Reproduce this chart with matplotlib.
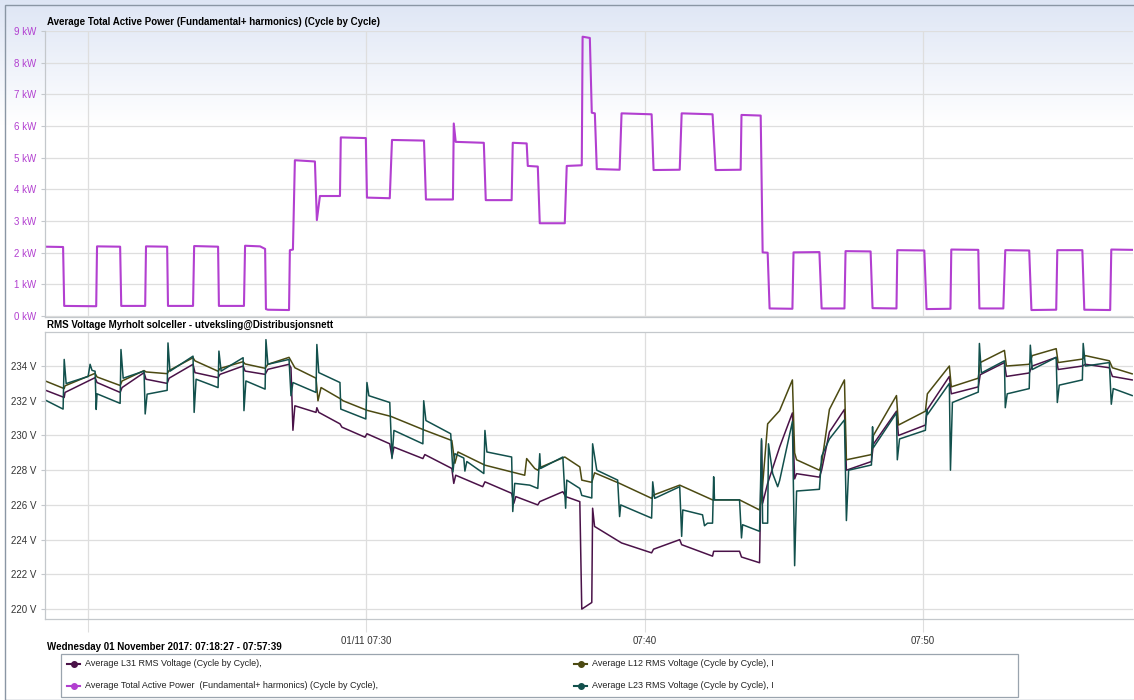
import numpy as np
import matplotlib.pyplot as plt
from matplotlib.patches import Rectangle
from matplotlib.lines import Line2D

# time is in minutes after 07:00 on 01/11/2017
power_t = [18.46, 19.10, 19.14, 20.29, 20.32, 21.15, 21.19, 22.05, 22.08, 22.84,
           22.87, 23.77, 23.81, 24.67, 24.70, 25.60, 25.64, 26.18, 26.36, 26.39,
           26.46, 27.22, 27.25, 27.36, 27.43, 28.15, 28.22, 28.33, 29.05, 29.08,
           29.98, 30.02, 30.84, 30.92, 32.07, 32.14, 33.11, 33.14, 33.21, 34.22,
           34.29, 35.22, 35.26, 35.76, 35.80, 36.16, 36.23, 37.13, 37.20, 37.74,
           37.77, 38.03, 38.10, 38.21, 38.28, 39.10, 39.17, 40.25, 40.32, 41.26,
           41.33, 42.44, 42.55, 43.45, 43.48, 44.17, 44.24, 44.42, 44.49, 45.31,
           45.35, 46.28, 46.36, 47.18, 47.22, 48.12, 48.19, 49.05, 49.08, 50.05,
           50.13, 50.99, 51.02, 51.99, 52.03, 52.89, 52.96, 53.82, 53.90, 54.79,
           54.83, 55.73, 55.80, 56.73, 56.77, 57.52]
power_kw = [2.19, 2.18, 0.32, 0.31, 2.20, 2.19, 0.32, 0.32, 2.20, 2.19,
            0.32, 0.32, 2.21, 2.19, 0.32, 0.32, 2.22, 2.20, 2.12, 0.22,
            0.20, 0.19, 2.08, 2.10, 4.92, 4.88, 3.03, 3.79, 3.79, 5.64,
            5.62, 3.74, 3.72, 5.56, 5.54, 3.68, 3.68, 6.08, 5.50, 5.47,
            3.66, 3.66, 5.47, 5.45, 4.74, 4.72, 2.93, 2.93, 4.74, 4.76,
            8.82, 8.78, 6.42, 6.40, 4.64, 4.62, 6.40, 6.37, 4.61, 4.62,
            6.40, 6.37, 4.61, 4.62, 6.35, 6.33, 2.01, 2.00, 0.24, 0.23,
            2.01, 2.02, 0.24, 0.24, 2.05, 2.04, 0.25, 0.24, 2.08, 2.07,
            0.22, 0.23, 2.10, 2.09, 0.24, 0.24, 2.08, 2.07, 0.19, 0.20,
            2.08, 2.08, 0.20, 0.19, 2.10, 2.09]

l12_t = [18.46, 19.14, 19.17, 20.25, 20.32, 21.15, 21.22, 22.01, 22.08, 22.84,
         22.91, 23.77, 23.84, 24.67, 24.74, 25.57, 25.64, 26.36, 26.46, 27.22,
         27.43, 28.19, 28.26, 28.37, 29.08, 29.16, 30.02, 30.88, 32.10, 33.07,
         33.18, 33.29, 34.26, 35.69, 35.76, 36.05, 36.16, 36.23, 37.13, 37.67,
         37.74, 38.10, 38.20, 39.10, 40.25, 40.32, 41.26, 42.44, 43.41, 44.13,
         44.20, 44.42, 44.85, 45.31, 45.39, 45.46, 46.28, 46.36, 46.64, 47.18,
         47.25, 48.15, 48.22, 49.05, 49.12, 50.09, 50.16, 50.95, 51.02, 51.99,
         52.06, 52.93, 53.00, 53.82, 53.93, 54.79, 54.86, 55.73, 55.84, 56.70,
         56.81, 57.52]
l12_v = [233.14, 232.70, 232.86, 233.58, 233.37, 232.88, 233.14, 233.74, 233.66, 233.56,
         233.74, 234.48, 234.30, 233.70, 233.86, 234.25, 234.12, 233.87, 234.10, 234.50,
         233.90, 233.30, 232.00, 232.76, 232.10, 232.00, 231.45, 231.10, 230.30, 229.71,
         228.40, 229.05, 228.29, 227.71, 228.67, 228.10, 228.00, 228.15, 228.76, 228.19,
         227.43, 227.30, 227.85, 227.24, 226.38, 226.57, 227.14, 226.29, 226.29, 225.71,
         226.38, 230.67, 231.43, 233.20, 229.00, 228.60, 228.00, 228.40, 231.50, 233.20,
         228.60, 228.90, 230.00, 232.30, 230.60, 231.40, 232.40, 234.00, 232.80, 233.30,
         234.20, 234.90, 234.00, 234.10, 234.60, 235.00, 234.20, 234.40, 234.60, 234.30,
         233.90, 233.55]

l31_t = [18.46, 19.14, 19.17, 20.25, 20.32, 21.15, 21.22, 22.01, 22.08, 22.84,
         22.91, 23.77, 23.84, 24.67, 24.74, 25.57, 25.64, 26.36, 26.46, 27.22,
         27.29, 27.36, 27.43, 28.19, 28.22, 28.29, 29.05, 29.12, 29.95, 30.02,
         30.84, 30.92, 30.99, 32.03, 32.10, 33.07, 33.14, 33.21, 34.18, 34.26,
         35.22, 35.30, 35.37, 36.16, 36.23, 37.06, 37.16, 37.67, 37.74, 38.10,
         38.13, 38.20, 39.17, 40.25, 40.32, 41.26, 41.33, 42.44, 42.48, 43.41,
         43.48, 44.13, 44.20, 44.24, 44.42, 44.85, 45.31, 45.39, 45.46, 46.28,
         46.36, 46.64, 47.18, 47.25, 48.15, 48.22, 49.05, 49.12, 50.09, 50.16,
         50.95, 51.02, 51.99, 52.06, 52.93, 53.00, 53.82, 53.93, 54.79, 54.86,
         55.73, 55.84, 56.70, 56.81, 57.52]
l31_v = [232.61, 232.19, 232.48, 233.33, 233.05, 232.48, 232.76, 233.62, 233.24, 233.00,
         233.30, 234.10, 233.62, 233.33, 233.52, 234.00, 233.71, 233.52, 233.81, 234.10,
         233.90, 230.30, 231.71, 231.33, 231.60, 231.33, 230.67, 230.48, 229.90, 230.10,
         229.52, 228.76, 229.33, 228.67, 228.90, 228.10, 227.24, 227.71, 227.05, 227.33,
         226.67, 226.10, 226.48, 226.00, 226.19, 226.76, 226.48, 226.19, 220.00, 220.38,
         225.81, 224.76, 223.81, 223.24, 223.45, 224.00, 223.71, 223.05, 223.33, 223.33,
         223.00, 222.67, 229.71, 226.10, 227.24, 229.33, 231.30, 227.50, 227.80, 227.60,
         228.00, 230.20, 231.50, 228.00, 228.50, 229.50, 231.40, 230.00, 230.60, 231.50,
         233.40, 232.40, 232.80, 233.50, 234.20, 233.40, 233.60, 234.00, 234.50, 233.80,
         234.00, 234.10, 233.90, 233.40, 233.20]

l23_t = [18.46, 19.10, 19.14, 19.21, 20.00, 20.07, 20.14, 20.25, 20.29, 20.32,
         21.15, 21.18, 21.26, 22.01, 22.05, 22.12, 22.84, 22.87, 22.94, 23.77,
         23.81, 23.88, 24.67, 24.70, 24.78, 25.57, 25.60, 25.67, 26.36, 26.39,
         26.46, 27.22, 27.29, 27.36, 28.19, 28.22, 28.29, 29.05, 29.08, 29.98,
         30.02, 30.09, 30.84, 30.92, 30.99, 32.03, 32.06, 32.14, 33.03, 33.11,
         33.18, 33.50, 33.54, 33.61, 34.22, 34.26, 34.33, 35.22, 35.26, 35.33,
         35.87, 36.16, 36.23, 36.26, 37.06, 37.16, 37.20, 37.67, 37.74, 38.10,
         38.13, 38.28, 39.03, 39.10, 39.14, 40.25, 40.29, 40.36, 41.26, 41.33,
         41.37, 42.08, 42.15, 42.26, 42.44, 42.48, 42.51, 43.41, 43.48, 43.52,
         44.13, 44.20, 44.24, 44.42, 44.45, 44.60, 44.78, 44.85, 45.31, 45.39,
         45.46, 46.28, 46.36, 46.64, 47.18, 47.25, 47.33, 48.15, 48.19, 48.22,
         49.05, 49.08, 49.16, 50.09, 50.13, 50.16, 50.95, 50.99, 51.06, 51.99,
         52.03, 52.10, 52.93, 52.96, 53.03, 53.82, 53.86, 53.93, 54.79, 54.83,
         54.90, 55.73, 55.76, 55.84, 56.70, 56.77, 56.84, 57.52]
l23_v = [232.04, 231.52, 234.38, 232.99, 233.40, 234.10, 233.75, 233.70, 231.50, 232.40,
         231.85, 234.95, 233.30, 233.71, 231.24, 232.38, 232.60, 235.33, 233.70, 234.57,
         231.33, 233.24, 232.76, 234.86, 233.71, 234.48, 231.43, 233.14, 232.67, 235.52,
         234.10, 234.38, 232.29, 233.05, 232.48, 235.24, 233.62, 233.05, 231.52, 230.95,
         233.05, 232.29, 231.90, 228.67, 230.29, 229.52, 232.00, 230.86, 230.10, 227.90,
         228.95, 228.70, 227.95, 228.50, 227.81, 230.29, 229.05, 228.76, 225.62, 227.24,
         227.14, 226.95, 228.95, 228.10, 228.76, 225.81, 227.43, 226.95, 226.55, 226.40,
         229.52, 228.00, 227.43, 225.33, 226.00, 225.24, 227.33, 226.38, 227.05, 224.19,
         225.71, 225.43, 224.80, 224.95, 224.95, 227.62, 226.29, 226.29, 224.10, 224.86,
         224.48, 229.81, 224.95, 224.95, 229.52, 227.81, 227.05, 227.40, 230.80, 222.50,
         226.80, 226.90, 228.80, 229.80, 230.90, 225.10, 228.00, 228.30, 230.50, 229.30,
         231.30, 228.60, 229.80, 230.30, 231.50, 231.20, 233.00, 228.00, 231.90, 232.50,
         235.30, 233.60, 234.30, 231.60, 232.40, 232.70, 235.20, 233.80, 234.50, 231.90,
         232.90, 233.20, 235.30, 234.00, 234.20, 231.80, 232.70, 232.30]

x_ticks = [20, 30, 40, 50]
x_labels = ['', '01/11 07:30', '07:40', '07:50']
kw_ticks = list(range(0, 10))
v_ticks = list(range(220, 236, 2))

c_power = '#b23fd0'
c_l31 = '#4a1248'
c_l12 = '#4c4a12'
c_l23 = '#12504c'
grid_c = '#dedede'
spine_c = '#c4c8cc'

W, H = 1134, 700
fig = plt.figure(figsize=(W / 100, H / 100), dpi=100)
plt.rcParams['font.family'] = ['Liberation Sans', 'DejaVu Sans']

def fx(px):
    return px / W

def fy(py):
    return 1 - py / H

# soft lavender wash at the top of the widget
bg = fig.add_axes([0, 0, 1, 1], zorder=-10)
bg.axis('off')
grad = np.linspace(0, 1, 200)[:, None]
top_rgb = np.array([0.87, 0.90, 0.96])
img = top_rgb[None, None, :] * (1 - grad[..., None]) + np.ones(3)[None, None, :] * grad[..., None]
bg.imshow(img, extent=[0, 1, fy(125), fy(0)], aspect='auto')
bg.set_xlim(0, 1)
bg.set_ylim(0, 1)
bg.add_patch(Rectangle((fx(5), 0), 1.0, fy(5), fill=False, edgecolor='#8a96a4', lw=1.0))

left, right = 45, 1133
ax1 = fig.add_axes([fx(left), fy(317), fx(right - left), (317 - 31) / H])
ax2 = fig.add_axes([fx(left), fy(619), fx(right - left), (619 - 332) / H])

for ax in (ax1, ax2):
    ax.set_facecolor('none')
    ax.set_xlim(18.45, 57.55)
    ax.set_xticks(x_ticks)
    ax.grid(True, color=grid_c, lw=0.9)
    ax.set_axisbelow(True)
    for s in ax.spines.values():
        s.set_color(spine_c)
        s.set_linewidth(0.9)
    ax.spines['right'].set_visible(False)
    ax.tick_params(axis='y', length=3, color=spine_c, labelsize=7, pad=3)

ax1.spines['top'].set_visible(False)
ax1.plot(power_t, power_kw, color=c_power, lw=1.5)
ax1.set_ylim(-0.03, 9.0)
ax1.set_yticks(kw_ticks)
ax1.set_yticklabels([f'{k} kW' for k in kw_ticks], color=c_power)
ax1.tick_params(axis='x', length=0, labelbottom=False)

ax2.plot(l31_t, l31_v, color=c_l31, lw=1.1)
ax2.plot(l12_t, l12_v, color=c_l12, lw=1.1)
ax2.plot(l23_t, l23_v, color=c_l23, lw=1.1)
ax2.set_ylim(219.43, 235.96)
ax2.set_yticks(v_ticks)
ax2.set_yticklabels([f'{v} V' for v in v_ticks], color='#333333')
ax2.set_xticklabels(x_labels, color='#333333', fontsize=7)
ax2.tick_params(axis='x', length=9, color=grid_c, pad=3)

fig.text(fx(47), fy(22), 'Average Total Active Power (Fundamental+ harmonics) (Cycle by Cycle)',
         fontsize=7, fontweight='bold', va='center', ha='left')
fig.text(fx(47), fy(325), 'RMS Voltage Myrholt solceller - utveksling@Distribusjonsnett',
         fontsize=7, fontweight='bold', va='center', ha='left')
fig.text(fx(47), fy(647), 'Wednesday 01 November 2017: 07:18:27 - 07:57:39',
         fontsize=7, fontweight='bold', va='center', ha='left')

# legend box with two columns of entries
bg.add_patch(Rectangle((fx(61), fy(697)), fx(1018 - 61), (697 - 654) / H,
                       fill=False, edgecolor='#9aa4ae', lw=0.9))
entries = [
    (67, 664, c_l31, 'Average L31 RMS Voltage (Cycle by Cycle),'),
    (67, 686, c_power, 'Average Total Active Power  (Fundamental+ harmonics) (Cycle by Cycle),'),
    (574, 664, c_l12, 'Average L12 RMS Voltage (Cycle by Cycle), I'),
    (574, 686, c_l23, 'Average L23 RMS Voltage (Cycle by Cycle), I'),
]
for px, py, col, label in entries:
    bg.add_line(Line2D([fx(px), fx(px + 13)], [fy(py), fy(py)], color=col, lw=1.5))
    bg.plot([fx(px + 6.5)], [fy(py)], 'o', color=col, ms=4)
    fig.text(fx(px + 18), fy(py), label, fontsize=6.5, va='center', ha='left', color='#222222')

plt.savefig('out.png', dpi=100)
